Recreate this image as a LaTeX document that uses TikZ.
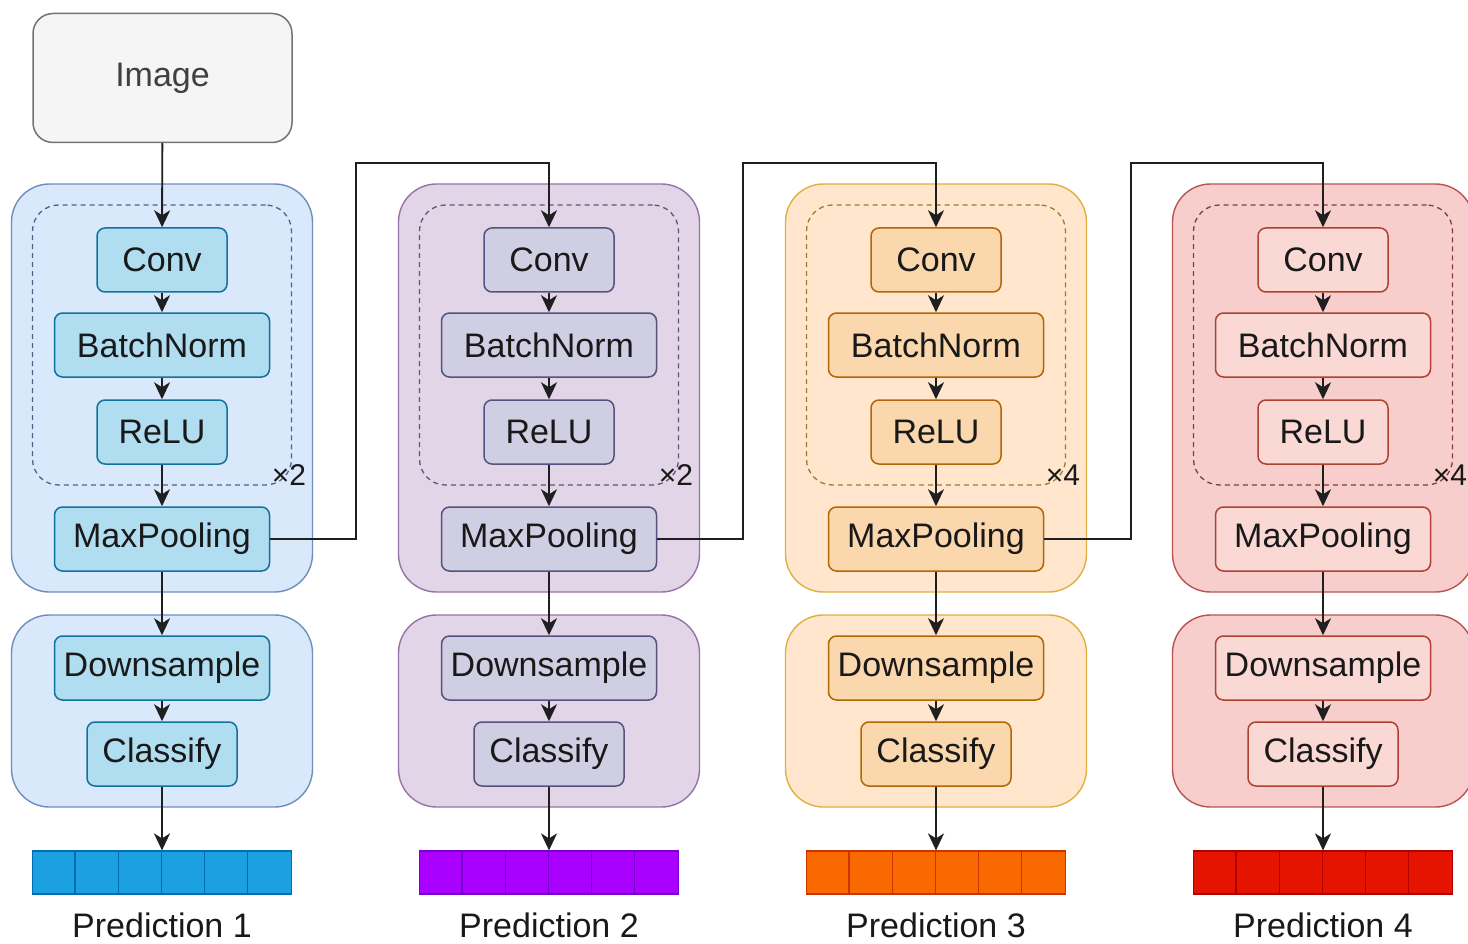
\documentclass[tikz,border=0pt]{standalone}
\usepackage{fontspec}
\setmainfont{Liberation Sans}
\usetikzlibrary{arrows.meta}
\begin{document}
\begin{tikzpicture}[x=1pt,y=-1pt,
  txt/.style={font=\fontsize{34}{40}\selectfont, text=black!90},
  outerbox/.style={draw=oD, fill=oF, line width=1.4pt, rounded corners=38pt},
  loopbox/.style={draw=oD!70!black, dash pattern=on 5pt off 4pt, line width=1.3pt, rounded corners=26pt},
  layer/.style={txt, draw=iD, fill=iF, line width=1.5pt, rounded corners=8pt, minimum height=64pt, inner sep=0pt},
  arr/.style={draw=black!88, line width=1.9pt, -{Stealth[length=17pt,width=16pt,inset=5pt]}},
  link/.style={draw=black!88, line width=1.9pt}
]
\useasboundingbox (0,0) rectangle (1468,944);
\fill[white] (0,0) rectangle (1468,944);

% input image
\node[txt, draw=black!55, fill=black!4, line width=1.5pt, rounded corners=20pt,
      minimum width=259pt, minimum height=129pt, text=black!75] (image) at (162.5,78) {Image};

\foreach \cx/\oFc/\oDc/\iFc/\iDc/\bFc/\bDc/\rep/\i in {
  162/DAE8FC/6C8EBF/B1DDF0/10739E/1BA1E2/006EAF/2/1,
  549/E1D5E7/9673A6/D0CEE2/56517E/AA00FF/7700CC/2/2,
  936/FFE6CC/E0B040/FAD7AC/B46504/FA6800/C73500/4/3,
  1323/F8CECC/B85450/FAD9D5/AE4132/E51400/B20000/4/4} {
  \definecolor{oF}{HTML}{\oFc}
  \definecolor{oD}{HTML}{\oDc}
  \definecolor{iF}{HTML}{\iFc}
  \definecolor{iD}{HTML}{\iDc}
  \definecolor{bF}{HTML}{\bFc}
  \definecolor{bD}{HTML}{\bDc}
  % feature stage and head containers
  \node[outerbox, minimum width=301pt, minimum height=408pt] (stage\i) at (\cx,388) {};
  \node[outerbox, minimum width=301pt, minimum height=192pt] (head\i) at (\cx,711) {};
  \node[loopbox, minimum width=259pt, minimum height=280pt] (loop\i) at (\cx,345) {};
  \node[txt, font=\fontsize{30}{34}\selectfont, anchor=center] (rep\i) at (\cx+127,475) {×\rep};
  % layers
  \node[layer, minimum width=130pt] (conv\i) at (\cx,260) {Conv};
  \node[layer, minimum width=215pt] (bn\i)   at (\cx,345) {BatchNorm};
  \node[layer, minimum width=130pt] (relu\i) at (\cx,432) {ReLU};
  \node[layer, minimum width=215pt] (mp\i)   at (\cx,539) {MaxPooling};
  \node[layer, minimum width=215pt] (ds\i)   at (\cx,668) {Downsample};
  \node[layer, minimum width=150pt] (cl\i)   at (\cx,754) {Classify};
  % prediction vector
  \node[draw=bD, fill=bF, line width=1.2pt, minimum width=259pt, minimum height=43pt, inner sep=0pt] (pred\i) at (\cx,872.5) {};
  \foreach \k in {1,...,5}
    \draw[bD, line width=1.2pt] ([xshift=\k*43.17pt]pred\i.north west) -- ([xshift=\k*43.17pt]pred\i.south west);
  \node[txt] (plabel\i) at (\cx,925) {Prediction \i};
  % flow
  \draw[arr] (conv\i) -- (bn\i);
  \draw[arr] (bn\i) -- (relu\i);
  \draw[arr] (relu\i) -- (mp\i);
  \draw[arr] (mp\i) -- (ds\i);
  \draw[arr] (ds\i) -- (cl\i);
  \draw[arr] (cl\i) -- (pred\i);
}

\draw[arr] (image) -- (conv1);
\coordinate (hop1) at (356,163);
\coordinate (hop2) at (743,163);
\coordinate (hop3) at (1131,163);
\draw[arr] (mp1.east) -| (hop1) -| (conv2.north);
\draw[arr] (mp2.east) -| (hop2) -| (conv3.north);
\draw[arr] (mp3.east) -| (hop3) -| (conv4.north);
\end{tikzpicture}
\end{document}
